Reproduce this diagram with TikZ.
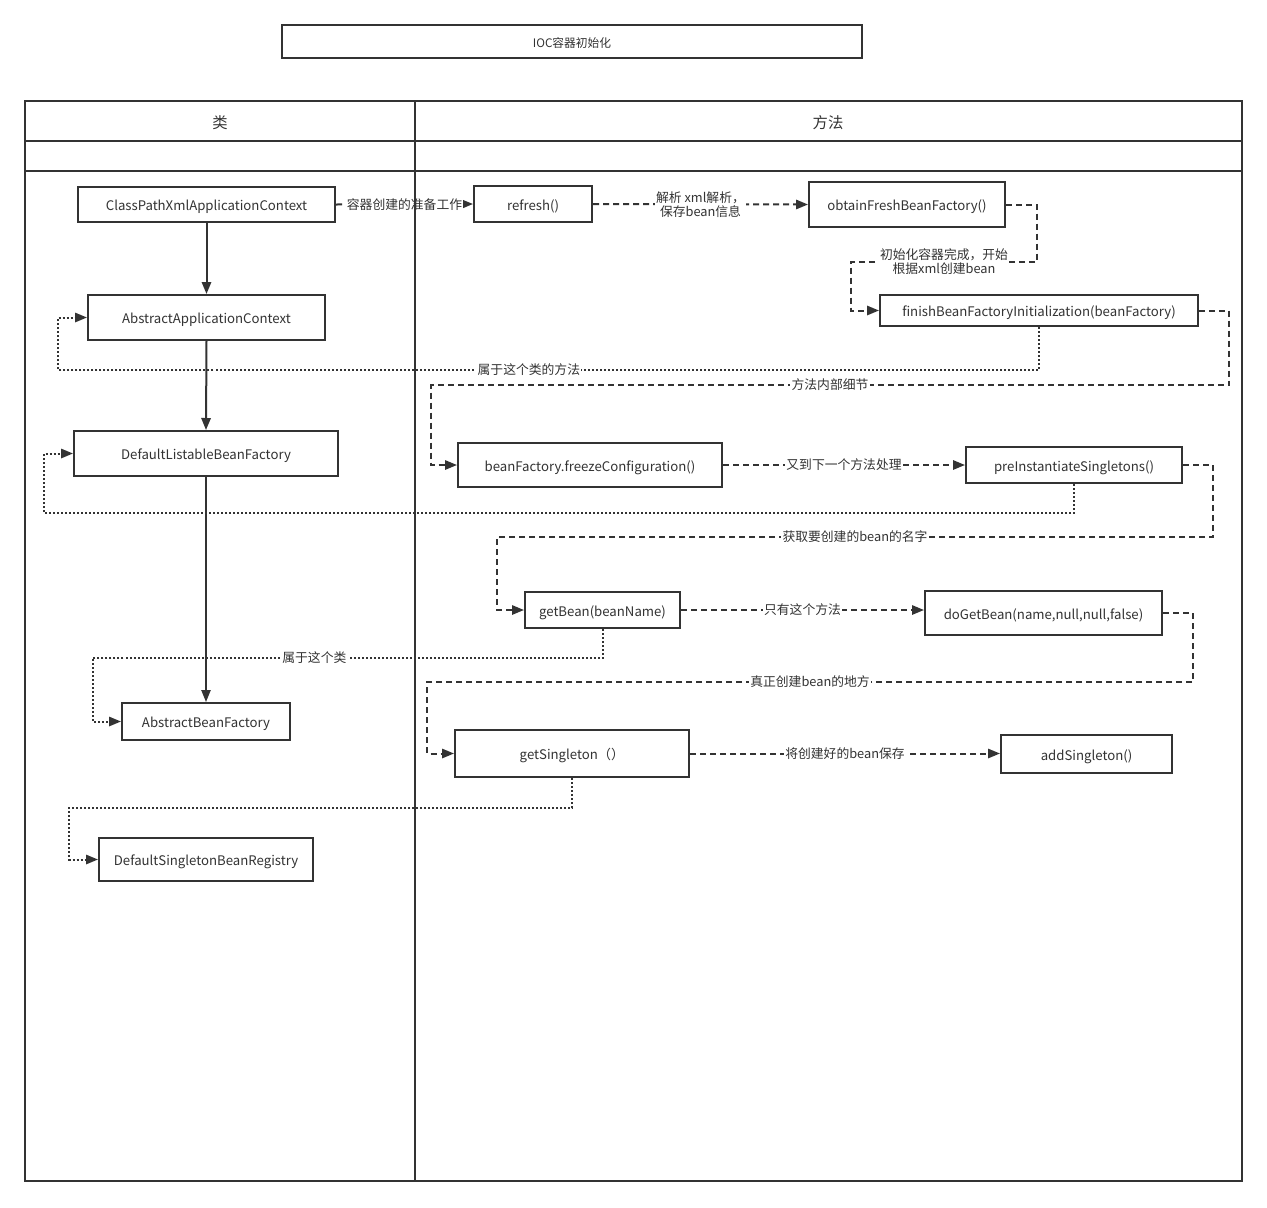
\documentclass[tikz,border=0pt]{standalone}
\usepackage{fontspec}
\setmainfont{Noto Sans CJK SC}
\usetikzlibrary{arrows.meta}
\definecolor{lc}{HTML}{333333}
\begin{document}
\begin{tikzpicture}[x=0.75pt,y=-0.75pt,
  every node/.style={font=\fontsize{9.9}{11}\selectfont, text=lc},
  bx/.style 2 args={draw=lc, line width=1.5pt, fill=white, inner sep=0pt,
     text height=9.2pt, text depth=0pt,
     minimum width=#1*0.75pt, minimum height=#2*0.75pt},
  lane/.style={draw=lc, line width=1.5pt},
  conn/.style={draw=lc, line width=1.5pt},
  tip/.style={-{Triangle[length=9pt,width=7pt]}},
  solidarr/.style={conn, tip},
  dasharr/.style={conn, dash pattern=on 4.5pt off 3pt, tip},
  dotarr/.style={conn, dash pattern=on 1.5pt off 1.5pt, tip},
  lbl/.style={fill=white, inner sep=1pt, align=center, font=\fontsize{9.6}{10.5}\selectfont},
]
\useasboundingbox (0,0) rectangle (1267,1207);

% title
\node[bx={580}{33}, font=\fontsize{8.8}{10}\selectfont] (title) at (572,41.5) {IOC容器初始化};

% nodes
\node[bx={257}{35}] (cp)   at (206.5,204.5) {ClassPathXmlApplicationContext};
\node[bx={118}{36}] (rf)   at (533,204)     {refresh()};
\node[bx={196}{45}] (obt)  at (907,204.5)   {obtainFreshBeanFactory()};
\node[bx={318}{31}] (fin)  at (1039,310.5)  {finishBeanFactoryInitialization(beanFactory)};
\node[bx={237}{45}] (aac)  at (206.5,317.5) {AbstractApplicationContext};
\node[bx={264}{45}] (dlbf) at (206,453.5)   {DefaultListableBeanFactory};
\node[bx={264}{44}] (frz)  at (590,465)     {beanFactory.freezeConfiguration()};
\node[bx={216}{36}] (pre)  at (1074,465)    {preInstantiateSingletons()};
\node[bx={155}{36}] (gb)   at (602.5,610)   {getBean(beanName)};
\node[bx={237}{44}] (dgb)  at (1043.5,613)  {doGetBean(name,null,null,false)};
\node[bx={168}{37}] (abf)  at (206,721.5)   {AbstractBeanFactory};
\node[bx={234}{47}] (gs)   at (572,753.5)   {getSingleton（）};
\node[bx={171}{38}] (add)  at (1086.5,754)  {addSingleton()};
\node[bx={214}{43}] (dsbr) at (206,859.5)   {DefaultSingletonBeanRegistry};

% class chain
\draw[solidarr] (cp.south) -- (aac.north);
\draw[solidarr] (aac.south) -- (dlbf.north);
\draw[conn, line width=1pt, tip] (dlbf.south) -- (abf.north);

% method chain
\draw[dasharr] (cp.east) -- node[lbl] {容器创建的准备工作} (rf.west);
\draw[dasharr] (rf.east) -- node[lbl] {解析 xml解析，\\保存bean信息} (obt.west);
\draw[dasharr] (obt.east) -- ++(31,0) -- ++(0,57)
   -- node[lbl] {初始化容器完成，开始\\根据xml创建bean} ++(-186,0) |- (fin.west);
\draw[dasharr] (fin.east) -- ++(30,0) -- ++(0,74.5)
   -- node[lbl] {方法内部细节} ++(-798,0) |- (frz.west);
\draw[dotarr] (fin.south) -- ++(0,42.5)
   -- node[lbl, pos=0.52] {属于这个类的方法} ++(-981,0) |- (aac.west);
\draw[dasharr] (frz.east) -- node[lbl] {又到下一个方法处理} (pre.west);
\draw[dasharr] (pre.east) -- ++(30,0) -- ++(0,72)
   -- node[lbl] {获取要创建的bean的名字} ++(-716,0) |- (gb.west);
\draw[dotarr] (pre.south) -- ++(0,29) -- ++(-1030,0) |- (dlbf.west);
\draw[dasharr] (gb.east) -- node[lbl] {只有这个方法} (gb.east -| dgb.west);
\draw[dotarr] (gb.south) -- ++(0,29)
   -- node[lbl, pos=0.565] {属于这个类} ++(-510,0) |- (abf.west);
\draw[dasharr] (dgb.east) -- ++(30,0) -- ++(0,69)
   -- node[lbl] {真正创建bean的地方} ++(-766,0) |- (gs.west);
\draw[dasharr] (gs.east) -- node[lbl] {将创建好的bean保存} (gs.east -| add.west);
\draw[dotarr] (gs.south) -- ++(0,30) -- ++(-503,0) |- (dsbr.west);

% swimlane pool
\draw[lane] (25,101) rectangle (1242,1181);
\draw[lane] (415,101) -- (415,1181);
\draw[lane] (25,141) -- (1242,141);
\draw[lane] (25,171) -- (1242,171);
\node[font=\fontsize{11.5}{13}\selectfont] (h1) at (220,123) {类};
\node[font=\fontsize{11.5}{13}\selectfont] (h2) at (828,123) {方法};
\end{tikzpicture}
\end{document}
